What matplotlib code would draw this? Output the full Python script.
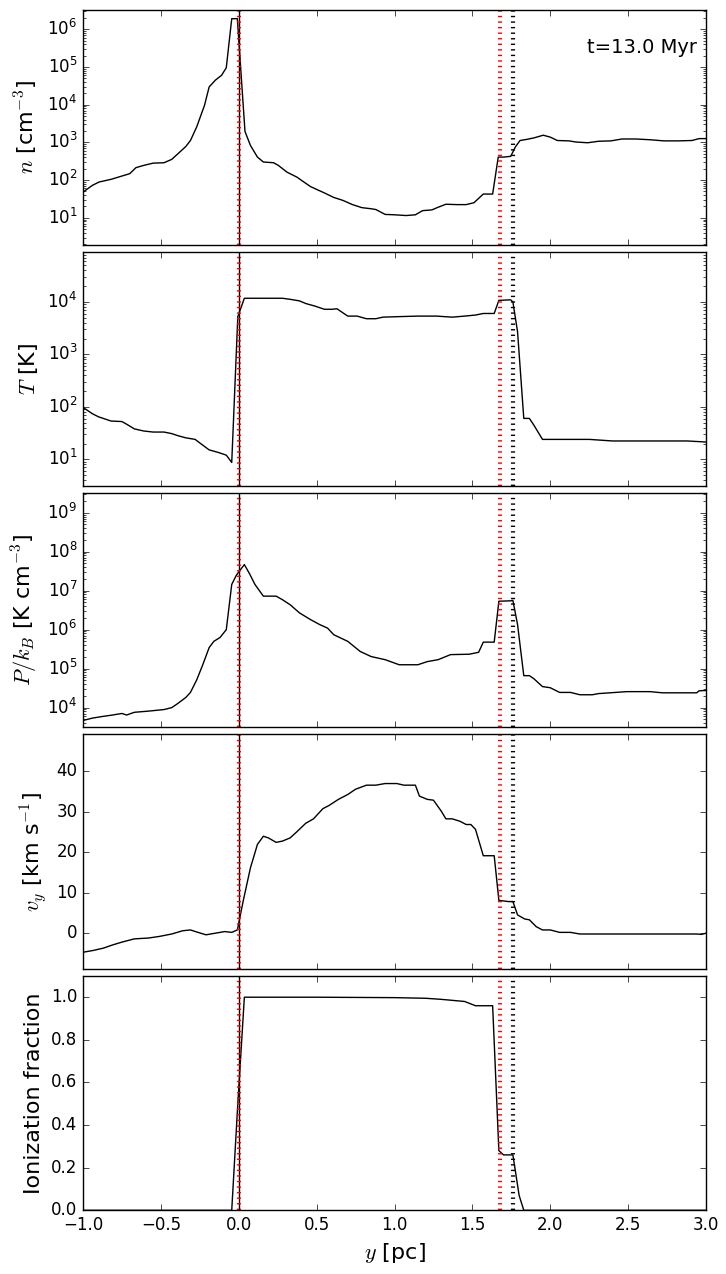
import matplotlib
matplotlib.use("Agg")
import matplotlib.pyplot as plt
import numpy as np

plt.style.use("classic")

# density n [cm^-3]
x_n = [-1.0, -0.94, -0.896, -0.82, -0.70, -0.66, -0.61, -0.55, -0.48, -0.43, -0.39, -0.34, -0.31,
       -0.27, -0.22, -0.19, -0.15, -0.11, -0.08, -0.045, -0.009, 0.04, 0.075, 0.12, 0.158, 0.224,
       0.254, 0.31, 0.373, 0.418, 0.46, 0.507, 0.55, 0.61, 0.67, 0.73, 0.79, 0.85, 0.88, 0.94, 1.0,
       1.075, 1.134, 1.18, 1.24, 1.28, 1.33, 1.40, 1.46, 1.51, 1.57, 1.63, 1.666, 1.70, 1.746, 1.776,
       1.806, 1.85, 1.896, 1.955, 2.0, 2.045, 2.12, 2.164, 2.24, 2.31, 2.39, 2.46, 2.55, 2.64, 2.73,
       2.82, 2.91, 2.955, 3.0]
logn = [1.68, 1.86, 1.95, 2.02, 2.17, 2.33, 2.39, 2.45, 2.46, 2.55, 2.70, 2.89, 3.05,
        3.41, 3.98, 4.47, 4.65, 4.78, 4.98, 6.28, 6.28, 3.29, 2.92, 2.61, 2.48, 2.46,
        2.39, 2.21, 2.08, 1.95, 1.83, 1.74, 1.66, 1.54, 1.46, 1.35, 1.27, 1.24, 1.22, 1.09, 1.08,
        1.06, 1.08, 1.19, 1.21, 1.28, 1.36, 1.35, 1.35, 1.40, 1.63, 1.63, 2.61, 2.61, 2.63, 2.88,
        3.05, 3.08, 3.12, 3.19, 3.14, 3.05, 3.04, 3.01, 2.99, 3.03, 3.04, 3.09, 3.09, 3.07, 3.04,
        3.04, 3.05, 3.10, 3.10]

# temperature T [K]
x_T = [-1.0, -0.94, -0.90, -0.82, -0.75, -0.72, -0.67, -0.61, -0.55, -0.48, -0.43, -0.39, -0.34,
       -0.28, -0.24, -0.19, -0.13, -0.08, -0.045, -0.006, 0.036, 0.134, 0.28, 0.33, 0.39, 0.43,
       0.49, 0.55, 0.60, 0.63, 0.70, 0.76, 0.82, 0.88, 0.925, 1.03, 1.15, 1.27, 1.37, 1.45, 1.52,
       1.57, 1.64, 1.67, 1.746, 1.76, 1.79, 1.83, 1.866, 1.895, 1.95, 2.045, 2.25, 2.40, 2.64,
       2.88, 3.0]
logT = [1.99, 1.87, 1.81, 1.73, 1.72, 1.67, 1.58, 1.54, 1.52, 1.52, 1.49, 1.45, 1.41,
        1.38, 1.29, 1.18, 1.13, 1.08, 0.94, 3.72, 4.07, 4.07, 4.07, 4.05, 4.02, 3.97,
        3.92, 3.86, 3.86, 3.87, 3.73, 3.73, 3.68, 3.68, 3.71, 3.72, 3.73, 3.73, 3.71, 3.73, 3.75,
        3.78, 3.78, 4.03, 4.04, 4.0, 3.43, 1.78, 1.78, 1.65, 1.38, 1.38, 1.38, 1.35, 1.35,
        1.35, 1.33]

# pressure P/k_B [K cm^-3]
x_P = [-1.0, -0.94, -0.88, -0.81, -0.75, -0.72, -0.67, -0.58, -0.48, -0.43, -0.39, -0.34, -0.31,
       -0.27, -0.23, -0.19, -0.16, -0.12, -0.08, -0.045, -0.015, 0.036, 0.07, 0.104, 0.158, 0.24,
       0.28, 0.33, 0.39, 0.46, 0.52, 0.57, 0.61, 0.70, 0.78, 0.85, 0.94, 1.03, 1.15, 1.21, 1.28,
       1.36, 1.48, 1.54, 1.57, 1.64, 1.67, 1.746, 1.76, 1.79, 1.83, 1.866, 1.895, 1.95, 2.0,
       2.06, 2.13, 2.19, 2.27, 2.31, 2.42, 2.49, 2.64, 2.72, 2.94, 2.955, 3.0]
logP = [3.67, 3.73, 3.77, 3.81, 3.85, 3.81, 3.88, 3.91, 3.95, 4.0, 4.11, 4.26, 4.39,
        4.71, 5.11, 5.54, 5.70, 5.80, 6.0, 7.16, 7.40, 7.67, 7.43, 7.16, 6.86, 6.86,
        6.77, 6.64, 6.43, 6.26, 6.13, 6.04, 5.87, 5.70, 5.44, 5.31, 5.23, 5.10, 5.10, 5.18, 5.23,
        5.36, 5.37, 5.42, 5.68, 5.68, 6.73, 6.74, 6.75, 6.13, 4.82, 4.82, 4.74, 4.54, 4.51,
        4.39, 4.39, 4.33, 4.33, 4.36, 4.39, 4.41, 4.41, 4.38, 4.38, 4.43, 4.44]

# velocity v_y [km/s]
x_v = [-1.0, -0.94, -0.87, -0.81, -0.75, -0.67, -0.58, -0.51, -0.43, -0.36, -0.31, -0.27, -0.21,
       -0.15, -0.09, -0.045, -0.009, 0.03, 0.075, 0.12, 0.158, 0.19, 0.24, 0.28, 0.33, 0.37,
       0.43, 0.48, 0.54, 0.58, 0.64, 0.70, 0.75, 0.82, 0.88, 0.94, 1.015, 1.06, 1.134, 1.16, 1.21,
       1.25, 1.30, 1.33, 1.37, 1.42, 1.46, 1.49, 1.52, 1.57, 1.64, 1.67, 1.73, 1.76, 1.79, 1.836,
       1.866, 1.91, 1.95, 2.0, 2.06, 2.13, 2.19, 2.34, 2.64, 2.94, 2.97, 3.0]
v_y = [-4.7, -4.3, -3.7, -2.9, -2.2, -1.4, -1.2, -0.8, -0.2, 0.6, 0.8, 0.3, -0.4,
       0.0, 0.4, 0.2, 0.8, 8.2, 16.1, 21.9, 23.9, 23.5, 22.4, 22.7, 23.5, 24.9,
       27.1, 28.2, 30.7, 31.5, 33.0, 34.2, 35.5, 36.5, 36.5, 36.9, 36.9, 36.5, 36.5, 33.8, 33.0,
       32.8, 30.1, 28.2, 28.2, 27.6, 26.8, 26.8, 25.6, 19.1, 19.1, 8.1, 7.8, 7.8, 4.5, 3.5,
       3.3, 1.6, 0.8, 0.8, 0.2, 0.2, -0.2, -0.2, -0.2, -0.2, -0.3, 0.0]

# ionization fraction
x_ion = [-1.0, -0.045, -0.006, 0.036, 0.5, 1.0, 1.2, 1.3, 1.45, 1.52, 1.63, 1.67, 1.70, 1.76,
         1.80, 1.83, 3.0]
ion = [0.0, 0.0, 0.5, 1.0, 1.0, 0.998, 0.995, 0.99, 0.98, 0.96, 0.96, 0.28, 0.26, 0.26,
       0.07, 0.0, 0.0]

front_red = [0.0, 1.678]
front_black = [1.758]

fig, axes = plt.subplots(5, 1, sharex=True, figsize=(7.26, 12.74), dpi=100)
fig.subplots_adjust(left=0.1143, right=0.9725, top=0.992, bottom=0.050, hspace=0.03)

axes[0].semilogy(x_n, 10 ** np.array(logn), "k-")
axes[0].set_ylim(1.95, 3.2e6)
axes[0].set_ylabel(r"$n$ [cm$^{-3}$]", fontsize=16)
axes[0].text(0.985, 0.84, "t=13.0 Myr", transform=axes[0].transAxes, ha="right", va="center",
             fontsize=14)

axes[1].semilogy(x_T, 10 ** np.array(logT), "k-")
axes[1].set_ylim(3.1, 9.1e4)
axes[1].set_ylabel(r"$T$ [K]", fontsize=16)

axes[2].semilogy(x_P, 10 ** np.array(logP), "k-")
axes[2].set_ylim(3.1e3, 3.2e9)
axes[2].set_ylabel(r"$P/k_B$ [K cm$^{-3}$]", fontsize=16)

axes[3].plot(x_v, v_y, "k-")
axes[3].set_ylim(-8.8, 49)
axes[3].set_yticks([0, 10, 20, 30, 40])
axes[3].set_ylabel(r"$v_y$ [km s$^{-1}$]", fontsize=16)

axes[4].plot(x_ion, ion, "k-")
axes[4].set_ylim(0, 1.1)
axes[4].set_yticks([0.0, 0.2, 0.4, 0.6, 0.8, 1.0])
axes[4].set_ylabel("Ionization fraction", fontsize=16)
axes[4].set_xlabel(r"$y$ [pc]", fontsize=16)
axes[4].set_xlim(-1, 3)

for ax in axes:
    ax.axvline(0.0, color="k", lw=1)
    for xv in front_red:
        ax.axvline(xv, color="r", ls=":", lw=3)
    for xv in front_black:
        ax.axvline(xv, color="k", ls=":", lw=3)

fig.savefig("out.png", dpi=100)
